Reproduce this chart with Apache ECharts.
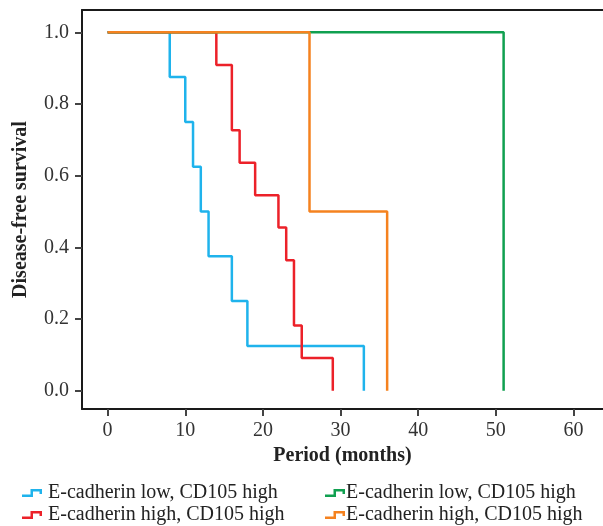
<!DOCTYPE html>
<html>
<head>
<meta charset="utf-8">
<script src="https://cdn.jsdelivr.net/npm/echarts@6/dist/echarts.min.js"></script>
<style>html,body{margin:0;padding:0;background:#fff}#c{width:603px;height:526px}</style>
</head>
<body>
<div id="c"></div>
<script>
// Kaplan-Meier event points [month, survival]
var blueLowHigh = [[0,1],[8,0.875],[10,0.75],[11,0.625],[12,0.5],[13,0.375],[16,0.25],[18,0.125],[33,0]];
var redHighHigh = [[0,1],[14,0.909],[16,0.727],[17,0.636],[19,0.545],[22,0.455],[23,0.364],[24,0.182],[25,0.091],[29,0]];
var greenLowHigh = [[0,1],[51,0]];
var orangeHighHigh = [[0,1],[26,0.5],[36,0]];
var xTicks = [0,10,20,30,40,50,60];
var yTicks = [0,0.2,0.4,0.6,0.8,1.0];
var seriesKeys = ['s1','s2','s3','s4'];
var seriesLabels = {
  s1: 'E-cadherin low, CD105 high',
  s2: 'E-cadherin high, CD105 high',
  s3: 'E-cadherin low, CD105 high',
  s4: 'E-cadherin high, CD105 high'
};
var colors = {s1:'#1fb3ec', s2:'#ec2129', s3:'#10a050', s4:'#f5821f'};
var dataMap = {s1: blueLowHigh, s2: redHighHigh, s3: greenLowHigh, s4: orangeHighHigh};

var FONT = '"Liberation Serif", "DejaVu Serif", serif';
var stepIcon = 'path://M0,5.5 L8.5,5.5 L8.5,0 L20,0 L20,5 L17.5,5 L17.5,2.5 L11,2.5 L11,8 L0,8 Z';

var chart = echarts.init(document.getElementById('c'));
function legendDef(left, keys, textPad) {
  return {
    orient: 'vertical',
    left: left, top: 482, height: 44,
    padding: 0,
    itemWidth: 20,
    itemHeight: 8,
    itemGap: 0,
    icon: stepIcon,
    itemStyle: {borderWidth: 0},
    data: keys,
    formatter: function (n) { return seriesLabels[n]; },
    textStyle: {fontFamily: FONT, fontSize: 20, color: '#222', lineHeight: 22, padding: textPad}
  };
}
chart.setOption({
  animation: false,
  backgroundColor: '#fff',
  grid: {left: 82, top: 10, right: -2, bottom: 117, containLabel: false},
  legend: [
    legendDef(22, ['s1','s2'], [0,0,0,1]),
    legendDef(325, ['s3','s4'], [0,0,0,-4])
  ],
  xAxis: [{
    type: 'value', min: -3.3, max: 63.8, position: 'bottom',
    splitLine: {show: false},
    axisLine: {show: true, onZero: false, lineStyle: {color: '#1a1a1a', width: 2}},
    axisTick: {show: true, length: 7, lineStyle: {color: '#444', width: 2}, customValues: xTicks},
    axisLabel: {customValues: xTicks, margin: 12, fontFamily: FONT, fontSize: 20, color: '#333'},
    name: 'Period (months)', nameLocation: 'middle', nameGap: 33,
    nameTextStyle: {fontFamily: FONT, fontSize: 20, fontWeight: 'bold', color: '#222'}
  }, {
    type: 'value', min: -3.3, max: 63.8, position: 'top',
    splitLine: {show: false},
    axisLine: {show: true, onZero: false, lineStyle: {color: '#1a1a1a', width: 2}},
    axisTick: {show: false}, axisLabel: {show: false}
  }],
  yAxis: {
    type: 'value', min: -0.0511, max: 1.0622,
    splitLine: {show: false},
    axisLine: {show: true, onZero: false, lineStyle: {color: '#1a1a1a', width: 2}},
    axisTick: {show: true, length: 7, lineStyle: {color: '#444', width: 2}, customValues: yTicks},
    axisLabel: {customValues: yTicks, margin: 13, fontFamily: FONT, fontSize: 20, color: '#333',
      formatter: function (v) { return v.toFixed(1); }},
    name: 'Disease-free survival', nameLocation: 'middle', nameGap: 51,
    nameTextStyle: {fontFamily: FONT, fontSize: 20, fontWeight: 'bold', color: '#222'}
  },
  series: seriesKeys.map(function (k) {
    return {
      name: k, type: 'line', step: 'end', data: dataMap[k],
      showSymbol: false, symbol: 'none',
      color: colors[k],
      itemStyle: {color: colors[k]},
      lineStyle: {color: colors[k], width: 2.5},
      emphasis: {disabled: true}
    };
  })
});
</script>
</body>
</html>
